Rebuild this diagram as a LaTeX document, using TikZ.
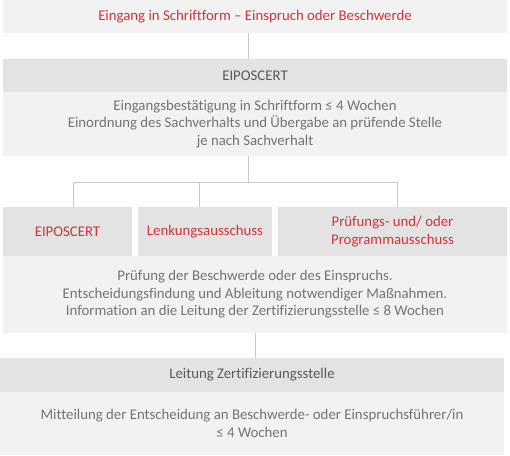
\documentclass[tikz,border=0pt]{standalone}
\usepackage{fontspec}
\setmainfont[Ligatures=NoCommon]{Carlito}
\definecolor{lightbg}{HTML}{F2F2F2}
\definecolor{darkbg}{HTML}{E3E3E3}
\definecolor{redtxt}{HTML}{D0343C}
\definecolor{graytxt}{HTML}{737373}
\definecolor{headtxt}{HTML}{5A5A5A}
\definecolor{linecol}{HTML}{C8C8C8}
\tikzset{
  box/.style={rectangle, inner sep=0pt, align=center, font=\fontsize{14.8}{17.5}\selectfont},
  light/.style={box, fill=lightbg, text=graytxt},
  dark/.style={box, fill=darkbg, text=headtxt},
  redbox/.style={box, fill=darkbg, text=redtxt},
  conn/.style={draw=linecol, line width=0.9pt}
}
\begin{document}
\begin{tikzpicture}[x=1pt,y=-1pt]
\useasboundingbox (0,0) rectangle (510,455);
\node[light, text=redtxt, minimum width=504pt, minimum height=33pt] (top) at (255,16.5) {Eingang in Schriftform – Einspruch oder Beschwerde};
\node[dark, minimum width=504pt, minimum height=33pt] (h1) at (255,75.5) {EIPOSCERT};
\node[light, minimum width=504pt, minimum height=64pt] (b1) at (255,124) {Eingangsbestätigung in Schriftform ≤ 4 Wochen\\Einordnung des Sachverhalts und Übergabe an prüfende Stelle\\je nach Sachverhalt};
\node[redbox, minimum width=129pt, minimum height=49pt] (e) at (67.5,231.5) {EIPOSCERT};
\node[redbox, minimum width=134pt, minimum height=49pt] (l) at (205,231.5) {Lenkungsausschuss};
\node[redbox, minimum width=229pt, minimum height=49pt] (p) at (392.5,231.5) {Prüfungs- und/ oder\\Programmausschuss};
\node[light, minimum width=504pt, minimum height=77pt] (b2) at (255,294.5) {Prüfung der Beschwerde oder des Einspruchs.\\Entscheidungsfindung und Ableitung notwendiger Maßnahmen.\\Information an die Leitung der Zertifizierungsstelle ≤ 8 Wochen};
\node[dark, minimum width=504pt, minimum height=34pt] (h3) at (252,375) {Leitung Zertifizierungsstelle};
\node[light, minimum width=504pt, minimum height=63pt] (b3) at (252,423.5) {Mitteilung der Entscheidung an Beschwerde- oder Einspruchsführer/in\\≤ 4 Wochen};
\coordinate (hub) at (248,182);
\coordinate (le) at (73,182);
\coordinate (ll) at (199,182);
\coordinate (lp) at (397,182);
\draw[conn] ([xshift=-7pt]top.south) -- ([xshift=-7pt]h1.north);
\draw[conn] ([xshift=-7pt]b1.south) -- (hub);
\draw[conn] (le) -- (lp);
\draw[conn] (le) -- (le |- e.north);
\draw[conn] (ll) -- (ll |- l.north);
\draw[conn] (lp) -- (lp |- p.north);
\draw[conn] (b2.south) -- ([xshift=3pt]h3.north);
\end{tikzpicture}
\end{document}
